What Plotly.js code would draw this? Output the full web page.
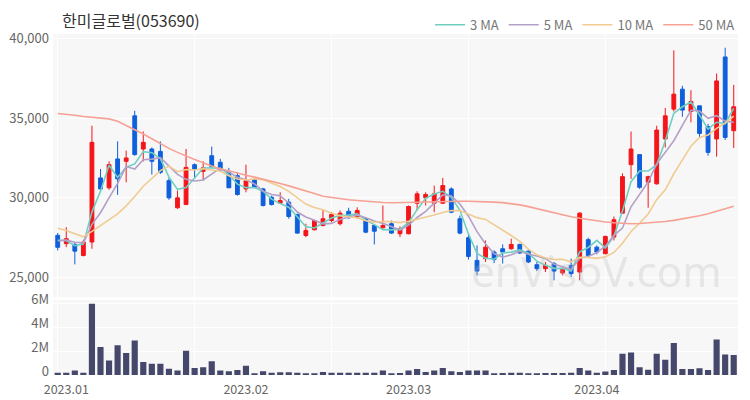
<!DOCTYPE html>
<html>
<head>
<meta charset="utf-8">
<script src="https://cdn.plot.ly/plotly-3.0.1.min.js"></script>
<style>
html,body{margin:0;padding:0;background:#ffffff;}
#chart{width:750px;height:400px;}
</style>
</head>
<body>
<div id="chart"></div>
<script>
const stockName = '한미글로벌(053690)';
const watermark = 'enVisoV.com';

const openP = [27650,27130,27080,26390,27230,31250,30630,32440,32290,35140,
  33060,33060,32910,31080,29380,29580,32080,31660,32640,32230,
  31600,31390,30560,31130,30560,30040,29660,29730,28960,27640,
  28000,28270,28580,28380,29160,28790,28690,28270,28130,28380,
  27750,27750,29660,30000,29660,29660,30560,28690,27500,26080,
  26190,26600,26810,26810,27080,26660,25810,25560,25880,25290,
  25770,25350,27380,26910,26500,27540,29040,32080,32710,30980,
  30880,33690,35560,36810,35410,35770,34460,33690,38830,34210];
const highP = [27800,28160,27230,27380,34520,31810,32290,33540,32960,35460,
  34160,33160,33540,31250,30460,33060,32160,32290,33210,32440,
  31880,31600,32080,31190,30630,30140,30350,29940,29000,28380,
  28630,29270,29100,29210,29380,29410,28790,28300,29520,28580,
  28210,29520,30410,30350,30770,31250,30660,28890,27750,27020,
  27330,26710,27080,27440,27130,26710,25980,25980,25980,25660,
  26190,29100,27500,27020,27640,28830,31540,34160,32710,31390,
  34520,35630,39250,37020,36750,35770,34630,37790,39410,37080];
const lowP = [26700,26910,25830,26330,26810,30410,30500,30190,30980,32640,
  32290,31460,31500,29880,29310,29580,31190,31080,31880,31710,
  30630,30140,30350,30630,29460,29520,29630,28690,27750,27540,
  27960,28210,28480,28270,28690,28690,27790,27080,28060,27750,
  27540,27710,29210,29520,29100,29630,29040,27710,26130,25140,
  25980,25910,25880,26750,26500,25910,25410,25350,24830,25140,
  25040,24830,26330,26460,26460,27330,29000,31190,30560,29380,
  30830,33160,35410,35080,34730,33790,32640,32580,33630,33130];
const closeP = [26900,27440,26660,27230,33480,30560,32080,31190,32500,32710,
  33480,32290,31600,30000,30000,31910,31810,31880,31960,31750,
  30630,30210,31080,30660,29520,29580,29830,28830,27790,27960,
  28580,28690,28960,29040,28750,29210,27850,27910,28270,27790,
  28060,29460,30250,30210,30250,30770,29100,27790,26330,25410,
  26910,26130,26600,27080,26540,25980,25560,25770,25410,25560,
  25250,29040,26390,26600,27580,28630,31330,33060,30660,31330,
  34250,35140,36500,35500,36040,34040,32850,37330,33790,35710];
const volumeM = [0.18,0.18,0.38,0.20,6.00,2.35,1.22,2.50,1.85,2.90,
  1.10,0.95,0.95,0.52,0.38,2.05,0.60,0.65,1.15,0.38,
  0.32,0.43,0.78,0.15,0.32,0.20,0.23,0.23,0.20,0.15,
  0.15,0.25,0.18,0.18,0.18,0.18,0.18,0.18,0.38,0.15,
  0.17,0.38,0.50,0.25,0.38,0.60,0.32,0.25,0.38,0.38,
  0.38,0.15,0.17,0.20,0.20,0.15,0.15,0.17,0.17,0.17,
  0.20,0.60,0.38,0.18,0.30,0.43,1.80,1.90,0.65,0.45,
  1.80,1.28,2.70,0.50,0.50,0.57,0.43,3.00,1.73,1.68];
const ma3 = [27330,27330,27000,27110,29120,30420,32040,31280,31920,32130,
  32900,32830,32460,31300,30530,30640,31240,31870,31880,31860,
  31450,30860,30640,30650,30420,29920,29640,29410,28820,28190,
  28110,28410,28740,28900,28920,29000,28600,28320,28010,27990,
  28040,28440,29260,29970,30240,30410,30040,29220,27740,26510,
  26220,26150,26550,26600,26740,26530,26030,25770,25580,25580,
  25410,26620,26890,27340,26860,27600,29180,31010,31680,31680,
  32080,33570,35300,35710,36010,35190,34310,34740,34660,35610];
const ma5 = [27330,27350,27220,27180,28340,29070,30000,30910,31960,31810,
  32390,32430,32520,32020,31470,31160,31060,31120,31510,31860,
  31610,31290,31130,30870,30420,30210,30130,29680,29110,28800,
  28600,28370,28400,28650,28800,28930,28760,28550,28400,28210,
  27980,28300,28770,29150,29650,30190,30120,29620,28850,27880,
  27110,26510,26280,26430,26650,26470,26350,26190,25850,25660,
  25510,26210,26330,26570,26970,27650,28110,29440,30250,31000,
  32130,32890,33580,34540,35490,35440,34990,35150,34810,34740];
const ma10 = [28100,27950,27750,27560,27900,28250,28650,29000,29500,30080,
  30730,31220,31710,31990,31640,31780,31750,31820,31760,31670,
  31380,31180,31120,31190,31140,30910,30710,30410,29990,29610,
  29400,29250,29040,28880,28800,28760,28570,28470,28520,28510,
  28450,28530,28660,28780,28930,29080,29210,29200,29000,28760,
  28650,28320,27950,27640,27270,26790,26430,26230,26140,26150,
  25990,26280,26260,26210,26310,26580,27160,27890,28410,28990,
  29890,30500,31510,32400,33240,33790,33940,34360,34680,35120];
const ma50 = [35290,35250,35180,35100,35040,35000,34950,34800,34550,34250,
  34000,33700,33380,33100,32850,32600,32400,32200,32000,31800,
  31700,31550,31420,31300,31180,31050,30900,30750,30600,30450,
  30280,30100,30020,29950,29880,29830,29780,29740,29710,29690,
  29690,29700,29720,29740,29760,29780,29790,29790,29790,29780,
  29760,29730,29700,29650,29560,29450,29320,29200,29060,28930,
  28820,28720,28630,28560,28490,28440,28400,28380,28390,28420,
  28460,28520,28590,28680,28780,28880,29000,29150,29300,29480];
const maNames = ['3 MA', '5 MA', '10 MA', '50 MA'];
const monthTickIdx = [1, 22, 41, 63];
const monthTickText = ['2023.01', '2023.02', '2023.03', '2023.04'];

const FONT = '"Noto Sans CJK KR", "Noto Sans", sans-serif';
const idx = closeP.map((_, i) => i);
const maColors = ['#6fd0c2', '#b3a0c8', '#f1cb91', '#f6a194'];
const maSeries = [ma3, ma5, ma10, ma50];

const traces = [];
maSeries.forEach((s, k) => {
  traces.push({
    type: 'scatter', mode: 'lines', x: idx, y: s, name: maNames[k],
    xaxis: 'x', yaxis: 'y',
    line: {color: maColors[k], width: 1.6},
    hoverinfo: 'skip'
  });
});
traces.push({
  type: 'candlestick', x: idx, open: openP, high: highP, low: lowP, close: closeP,
  xaxis: 'x', yaxis: 'y', showlegend: false, whiskerwidth: 0,
  increasing: {line: {color: '#f4151a', width: 1}, fillcolor: '#f4151a'},
  decreasing: {line: {color: '#0f5fdc', width: 1}, fillcolor: '#0f5fdc'}
});
traces.push({
  type: 'bar', x: idx, y: volumeM.map(v => v * 1e6),
  xaxis: 'x2', yaxis: 'y2', showlegend: false,
  marker: {color: '#45476b', line: {width: 0}}
});

const layout = {
  width: 750, height: 400,
  margin: {l: 53, r: 10, t: 33, b: 25, pad: 0},
  paper_bgcolor: '#ffffff', plot_bgcolor: '#f7f7f7',
  font: {family: FONT, size: 13, color: '#666666'},
  title: {text: stockName, xref: 'container', x: 62 / 750, xanchor: 'left',
          yref: 'container', y: 1 - 21 / 400, yanchor: 'middle',
          font: {family: FONT, size: 16, color: '#333333'}},
  showlegend: true,
  legend: {orientation: 'h', x: 1.003, xanchor: 'right', y: 1.027, yanchor: 'middle',
           font: {family: FONT, size: 13, color: '#777777'}, itemwidth: 30,
           bgcolor: 'rgba(0,0,0,0)', traceorder: 'normal'},
  bargap: 0.28,
  boxgap: 0.36,
  xaxis: {anchor: 'y', domain: [0, 1], range: [-0.55, 79.5], showticklabels: false,
          tickvals: monthTickIdx, showgrid: false, zeroline: false, showline: false,
          minor: {tick0: 0, dtick: 16, showgrid: true, gridcolor: '#ffffff', gridwidth: 1, ticks: ''},
          rangeslider: {visible: false}, fixedrange: true},
  yaxis: {anchor: 'x', domain: [0.228, 1], range: [23770, 40270],
          tickvals: [25000, 30000, 35000, 40000], tickformat: ',d',
          showgrid: true, gridcolor: '#ffffff', gridwidth: 1, zeroline: false,
          ticks: '', ticklabelstandoff: 3, fixedrange: true},
  xaxis2: {anchor: 'y2', domain: [0, 1], range: [-0.55, 79.5], matches: 'x',
           tickvals: monthTickIdx, ticktext: monthTickText, showgrid: false,
           zeroline: false, showline: false, ticks: '', ticklabelstandoff: 5,
           tickfont: {size: 12.5},
           minor: {tick0: 0, dtick: 16, showgrid: true, gridcolor: '#ffffff', gridwidth: 1, ticks: ''},
           fixedrange: true},
  yaxis2: {anchor: 'x2', domain: [0, 0.2193], range: [0, 6.3e6],
           tickvals: [0, 2e6, 4e6, 6e6], ticktext: ['0', '2M', '4M', '6M'],
           showgrid: true, gridcolor: '#ffffff', gridwidth: 1, zeroline: false,
           ticks: '', ticklabelstandoff: 3, ticklabelshift: -4, fixedrange: true},
  annotations: [{
    text: watermark, xref: 'paper', yref: 'paper', x: 0.792, y: 0.307,
    xanchor: 'center', yanchor: 'middle', showarrow: false,
    font: {family: '"Noto Sans", sans-serif', size: 42, color: 'rgba(185,185,185,0.30)', weight: 400}
  }]
};

Plotly.newPlot('chart', traces, layout, {displayModeBar: false, staticPlot: true});
</script>
</body>
</html>
